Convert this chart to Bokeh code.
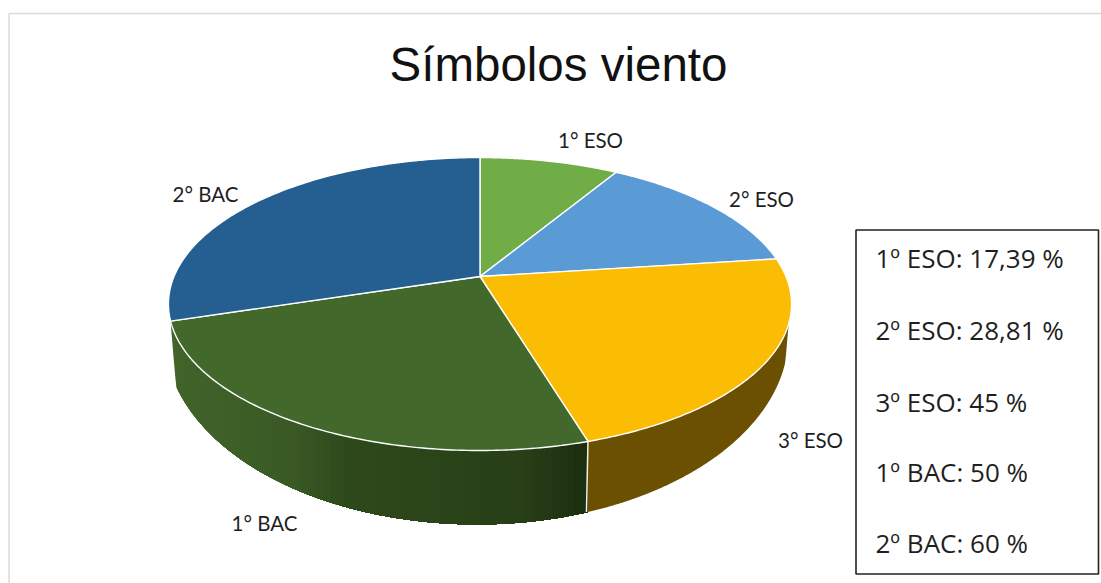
import numpy as np
from bokeh.plotting import figure
from bokeh.embed import file_html
from bokeh.resources import INLINE
from bokeh.core.properties import value

title_text = "Símbolos viento"
chart_labels = ["1° ESO", "2° ESO", "3° ESO", "1° BAC", "2° BAC"]
box_labels = ["1º ESO", "2º ESO", "3º ESO", "1º BAC", "2º BAC"]
percent_values = [17.39, 28.81, 45, 50, 60]
percent_texts = ["17,39", "28,81", "45", "50", "60"]
top_colors = ["#70AD47", "#5B9BD5", "#FBBC04", "#43682B", "#255E91"]

# projection of the disc (pixels on the page)
CX, CY, RX, RY, PERSP = 479.5, 276.0, 306.0, 141.3, 0.188
# lower rim of the wall
BX, BY, BA, BB = 476.0, 335.0, 312.0, 189.0
TAPER = 9.0


def project(theta):
    u, v = np.sin(theta), -np.cos(theta)
    w = 1.0 / (1.0 - PERSP * v)
    return CX + RX * u * w, CY + RY * v * w


def rim_y(x):
    d = np.clip((x - BX) / BA, -1, 1)
    return BY + BB * np.sqrt(1 - d * d)


def mix(stops, t):
    xs = np.linspace(0, 1, len(stops))
    rgb = [np.interp(t, xs, [int(s[i:i + 2], 16) for s in stops]) for i in (1, 3, 5)]
    return "#%02x%02x%02x" % tuple(int(round(c)) for c in rgb)


wall_stops = {
    2: ["#6A5000", "#6A5000"],
    3: ["#41642A", "#3E5F28", "#3A5925", "#2E491B", "#2C461A", "#2A4218", "#273E17", "#1C2F10"],
}

p = figure(width=1101, height=583, x_range=(0, 1101), y_range=(583, 0),
           output_backend="svg", toolbar_location=None, min_border=0)
p.axis.visible = False
p.grid.visible = False
p.outline_line_color = None
p.background_fill_color = "white"

# frame of the picture
p.multi_line(xs=[[8.5, 8.5], [8.5, 1101]], ys=[[583, 13], [13, 13]],
             line_color="#DADADA", line_width=1.5)

fractions = np.array(percent_values, dtype=float) / sum(percent_values)
edges = np.concatenate([[0.0], np.cumsum(fractions)]) * 2 * np.pi

# side wall: overlapping upright bands, each band runs to the wall's right end
for i, stops in wall_stops.items():
    th = np.linspace(edges[i], edges[i + 1], 400)
    tx, ty = project(th)
    i0 = int(np.argmax(tx))
    tx, ty = tx[i0:], ty[i0:]
    order = np.argsort(tx)
    tx, ty = tx[order], ty[order]
    grid = np.arange(tx[0], tx[-1] + 1, 1.0)
    grid[-1] = tx[-1]
    top = np.interp(grid, tx, ty) - 2
    low = np.maximum(rim_y(grid), top)
    if i == 2:   # wall fades out into the top face at the right silhouette
        low = np.minimum(low, top + 2 + TAPER * np.clip(tx[-1] - 3 - grid, 0, None))
    else:        # and at the left silhouette
        low = np.minimum(low, top + 2 + TAPER * np.clip(grid - tx[0], 0, None))
    n = 1 if stops[0] == stops[-1] else 60
    for j in range(n):
        k = int(j * (len(grid) - 1) / n)
        xx, tt, ll = grid[k:], top[k:], low[k:]
        col = mix(stops, j / max(1, n - 1))
        p.patch(list(xx) + list(xx[::-1]), list(tt) + list(ll[::-1]),
                fill_color=col, line_color=None)

# separator between the two walls
xa, ya = project(np.array([edges[3]]))
p.line([xa[0], xa[0] - 1.5], [ya[0], rim_y(xa[0])], line_color="#EFEFE6", line_width=1.5)

# top face
for i in range(len(fractions)):
    th = np.linspace(edges[i], edges[i + 1], 120)
    x, y = project(th)
    p.patch(list(x) + [CX], list(y) + [CY], fill_color=top_colors[i],
            line_color="white", line_width=1.4, line_join="round")

# data labels
label_x = [590, 761, 810, 264, 205]
label_y = [139, 198, 439, 522, 193]
p.text(label_x, label_y, text=chart_labels, text_font=value("Lato"),
       text_font_size="20.5px", text_color="#1F1F1F",
       text_align="center", text_baseline="middle")

p.text([558], [64], text=[title_text], text_font=value("Liberation Sans"),
       text_font_size="47.5px", text_color="#111111",
       text_align="center", text_baseline="middle")

# box with percentages
p.quad(left=[855.5], right=[1098], top=[229.5], bottom=[573.5],
       fill_color="white", line_color="#222222", line_width=1.6)
box_y = [257, 329, 401, 471, 542]
box_text = [f"{a}: {b} %" for a, b in zip(box_labels, percent_texts)]
p.text([875] * 5, box_y, text=box_text, text_font=value("Open Sans"),
       text_font_size="26px", text_color="#1F1F1F",
       text_align="left", text_baseline="middle")

open("out.html", "w").write(file_html(p, INLINE))
